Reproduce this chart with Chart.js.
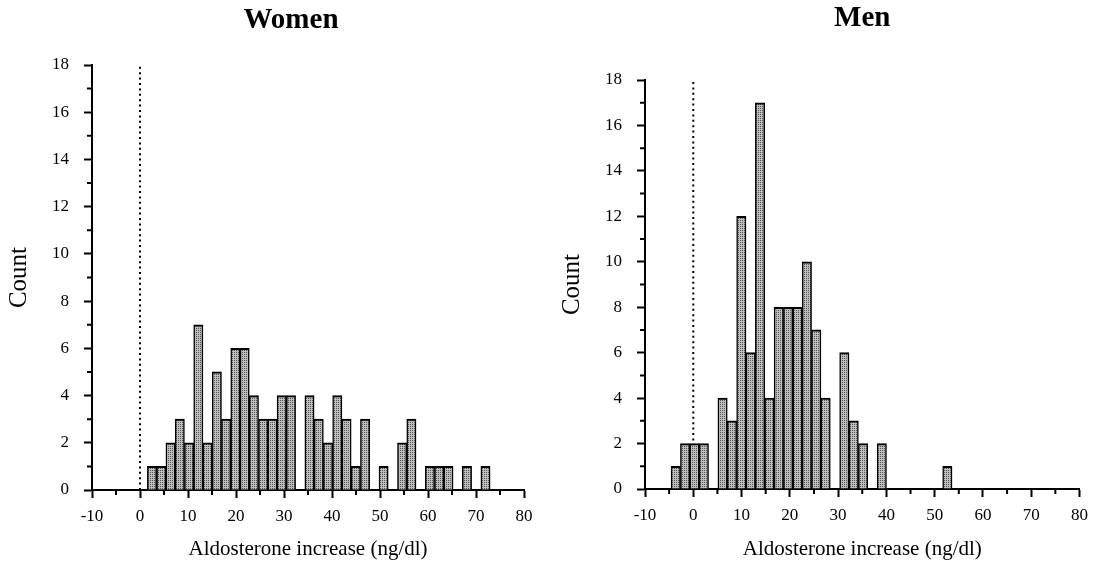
<!DOCTYPE html>
<html>
<head>
<meta charset="utf-8">
<script src="https://cdn.jsdelivr.net/npm/chart.js@4.4.1/dist/chart.umd.min.js"></script>
<style>
  html, body { margin: 0; padding: 0; background: #fff; }
  #wrap { position: relative; width: 1096px; height: 570px; }
  canvas { position: absolute; top: 0; }
  #womenChart { left: 0; }
  #menChart { left: 548px; }
</style>
</head>
<body>
<div id="wrap">
  <canvas id="womenChart" width="582" height="570"></canvas>
  <canvas id="menChart" width="548" height="570"></canvas>
</div>
<script>
/* bin centres (ng/dl) and counts */
const womenBins = [2.50, 4.43, 6.36, 8.29, 10.22, 12.15, 14.08, 16.01, 17.94, 19.87,
                   21.80, 23.73, 25.66, 27.59, 29.52, 31.45, 33.38, 35.31, 37.24, 39.17,
                   41.10, 43.03, 44.96, 46.89, 48.82, 50.75, 52.68, 54.61, 56.54, 58.47,
                   60.40, 62.33, 64.26, 66.19, 68.12, 70.05, 71.98];
const womenCounts = [1, 1, 2, 3, 2, 7, 2, 5, 3, 6,
                     6, 4, 3, 3, 4, 4, 0, 4, 3, 2,
                     4, 3, 1, 3, 0, 1, 0, 2, 3, 0,
                     1, 1, 1, 0, 1, 0, 1];

const menBins = [-3.63, -1.69, 0.25, 2.19, 4.13, 6.07, 8.01, 9.95, 11.89, 13.83,
                 15.77, 17.71, 19.65, 21.59, 23.53, 25.47, 27.41, 29.35, 31.29, 33.23,
                 35.17, 37.11, 39.05, 40.99, 42.93, 44.87, 46.81, 48.75, 50.69, 52.63];
const menCounts = [1, 2, 2, 2, 0, 4, 3, 12, 6, 17,
                   4, 8, 8, 8, 10, 7, 4, 0, 6, 3,
                   2, 0, 2, 0, 0, 0, 0, 0, 0, 1];

const xTicks = [-10, 0, 10, 20, 30, 40, 50, 60, 70, 80];
const xMinor = [-5, 5, 15, 25, 35, 45, 55, 65, 75];
const yTicks = [0, 2, 4, 6, 8, 10, 12, 14, 16, 18];
const yMinor = [1, 3, 5, 7, 9, 11, 13, 15, 17];
const zeroLineX = 0;

const serif = "'Liberation Serif', 'Times New Roman', serif";

/* stippled grey like the printed bars */
function stipple(){
    const c = document.createElement('canvas');
    c.width = 2; c.height = 2;
    const g = c.getContext('2d');
    g.fillStyle = '#bebebe';
    g.fillRect(0, 0, 2, 2);
    g.fillStyle = '#555555';
    g.fillRect(0, 0, 1, 1);
    return g.createPattern(c, 'repeat');
}

/* short minor ticks, the library only draws one tick length */
const minorTicks = {
    id: 'minorTicks',
    afterDraw(chart){
        const {ctx, scales: {x, y}} = chart;
        ctx.save();
        ctx.strokeStyle = '#000';
        ctx.lineWidth = 2;
        ctx.beginPath();
        xMinor.forEach(v => {
            const px = x.getPixelForValue(v);
            ctx.moveTo(px, y.bottom);
            ctx.lineTo(px, y.bottom + 5);
        });
        yMinor.forEach(v => {
            const py = y.getPixelForValue(v);
            ctx.moveTo(x.left, py);
            ctx.lineTo(x.left - 5, py);
        });
        ctx.stroke();
        ctx.restore();
    }
};

function makeChart(id, title, bins, counts, cfg){
    const ctx = document.getElementById(id).getContext('2d');
    const barData = bins.map((b, i) => ({x: b, y: counts[i]}));
    const scales = {
        x: {
            type: 'linear',
            min: xTicks[0],
            max: xTicks[xTicks.length - 1],
            offset: false,
            afterBuildTicks: s => { s.ticks = xTicks.map(v => ({value: v})); },
            afterFit: s => { s.height = cfg.xHeight; },
            ticks: {color: '#000', font: {family: serif, size: 17}, padding: 8, maxRotation: 0, autoSkip: false},
            grid: {display: true, drawOnChartArea: false, offset: false, tickLength: 8, tickWidth: 2, tickColor: '#000'},
            border: {display: true, color: '#000', width: 2},
            title: {display: true, text: 'Aldosterone increase (ng/dl)', color: '#000',
                    font: {family: serif, size: 21}, padding: {top: 0, bottom: 8}}
        },
        y: {
            type: 'linear',
            min: yTicks[0],
            max: yTicks[yTicks.length - 1],
            afterBuildTicks: s => { s.ticks = yTicks.map(v => ({value: v})); },
            afterFit: s => { s.width = cfg.yWidth; },
            ticks: {color: '#000', font: {family: serif, size: 17}, padding: 15},
            grid: {display: true, drawOnChartArea: false, tickLength: 8, tickWidth: 2, tickColor: '#000'},
            border: {display: true, color: '#000', width: 2},
            title: {display: true, text: 'Count', color: '#000',
                    font: {family: serif, size: 25}, padding: {top: cfg.countPad, bottom: 0}}
        }
    };
    if (cfg.spacerRight){
        /* empty right-hand axis: keeps room on the right so the title centres like the print */
        scales.spare = {
            type: 'linear', position: 'right', display: true,
            afterFit: s => { s.width = cfg.spacerRight; },
            ticks: {display: false},
            grid: {display: false},
            border: {display: false}
        };
    }
    return new Chart(ctx, {
        type: 'bar',
        data: {
            datasets: [{
                type: 'bar',
                data: barData,
                backgroundColor: stipple(),
                borderColor: '#000',
                borderWidth: {top: 2, left: 1.5, right: 1.5, bottom: 0},
                barPercentage: 1,
                categoryPercentage: 1,
                order: 1
            }, {
                type: 'line',
                data: [{x: zeroLineX, y: yTicks[0]}, {x: zeroLineX, y: yTicks[yTicks.length - 1]}],
                borderColor: '#000',
                borderWidth: 2,
                borderDash: [2, 3.4],
                pointRadius: 0,
                order: 2
            }]
        },
        options: {
            responsive: false,
            animation: false,
            layout: {padding: {left: 0, right: cfg.padRight, top: 0, bottom: 0}},
            plugins: {
                legend: {display: false},
                tooltip: {enabled: false},
                title: {
                    display: true,
                    text: title,
                    color: '#000',
                    fullSize: cfg.fullTitle,
                    font: {family: serif, size: 29, weight: 'bold', lineHeight: 1.1},
                    padding: {top: cfg.titleTop, bottom: cfg.top - 31.9 - cfg.titleTop}
                }
            },
            scales: scales
        },
        plugins: [minorTicks]
    });
}

makeChart('womenChart', 'Women', womenBins, womenCounts,
          {padRight: 0, spacerRight: 58, top: 65, xHeight: 80, yWidth: 92, countPad: 4, fullTitle: true, titleTop: 5});
makeChart('menChart', 'Men', menBins, menCounts,
          {padRight: 9, spacerRight: 0, top: 80, xHeight: 81, yWidth: 97, countPad: 9, fullTitle: false, titleTop: 3});
</script>
</body>
</html>
